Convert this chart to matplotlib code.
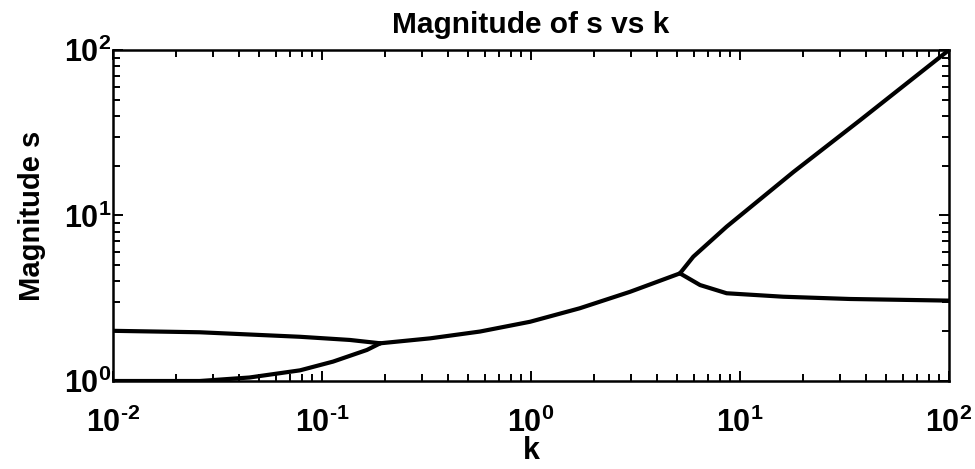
import numpy as np
import matplotlib
matplotlib.use("Agg")
import matplotlib.pyplot as plt
from matplotlib.ticker import LogLocator, FuncFormatter, NullFormatter

# branch values (k, |s|)
k_left_upper = [0.01, 0.026, 0.0785, 0.136, 0.19]
s_left_upper = [2.01, 1.97, 1.85, 1.77, 1.69]

k_left_lower = [0.01, 0.026, 0.045, 0.0785, 0.113, 0.164, 0.19]
s_left_lower = [1.0, 1.0, 1.05, 1.16, 1.31, 1.54, 1.69]

k_middle = [0.19, 0.329, 0.57, 0.99, 1.71, 2.98, 5.16]
s_middle = [1.69, 1.81, 1.99, 2.28, 2.75, 3.46, 4.47]

k_right_upper = [5.16, 5.98, 8.63, 18.0, 37.5, 100.0]
s_right_upper = [4.47, 5.64, 8.56, 18.3, 37.6, 100.0]

k_right_lower = [5.16, 6.44, 8.63, 16.1, 33.6, 100.0]
s_right_lower = [4.47, 3.80, 3.39, 3.23, 3.13, 3.06]

plt.rcParams['font.family'] = ['Liberation Sans', 'DejaVu Sans']
plt.rcParams['font.weight'] = 'bold'
plt.rcParams['mathtext.fontset'] = 'custom'
plt.rcParams['mathtext.rm'] = 'Liberation Sans:bold'
plt.rcParams['mathtext.bf'] = 'Liberation Sans:bold'
plt.rcParams['mathtext.default'] = 'bf'

fig = plt.figure(figsize=(9.75, 4.69), dpi=100)
ax = fig.add_axes([113 / 975, 1 - 381 / 469, (949 - 113) / 975, (381 - 50) / 469])

lw = 3.0
for kk, ss in [(k_left_upper, s_left_upper), (k_left_lower, s_left_lower),
               (k_middle, s_middle), (k_right_upper, s_right_upper),
               (k_right_lower, s_right_lower)]:
    ax.plot(kk, ss, color='black', lw=lw, solid_capstyle='round', solid_joinstyle='round')

ax.set_xscale('log')
ax.set_yscale('log')
ax.set_xlim(1e-2, 1e2)
ax.set_ylim(1e0, 1e2)

def pow_label(v, pos):
    e = int(round(np.log10(v)))
    if e < 0:
        return r'$10^{\text{-}%d}$' % (-e)
    return r'$10^{%d}$' % e

ax.xaxis.set_major_locator(LogLocator(base=10, numticks=10))
ax.yaxis.set_major_locator(LogLocator(base=10, numticks=10))
ax.xaxis.set_minor_locator(LogLocator(base=10, subs=np.arange(2, 10), numticks=20))
ax.yaxis.set_minor_locator(LogLocator(base=10, subs=np.arange(2, 10), numticks=20))
ax.xaxis.set_major_formatter(FuncFormatter(pow_label))
ax.yaxis.set_major_formatter(FuncFormatter(pow_label))
ax.xaxis.set_minor_formatter(NullFormatter())
ax.yaxis.set_minor_formatter(NullFormatter())

ax.tick_params(which='both', direction='in', top=True, right=True, width=1.4, labelsize=22)
ax.tick_params(which='major', length=7)
ax.tick_params(which='minor', length=5)
ax.tick_params(axis='x', which='major', pad=19)
ax.tick_params(axis='y', which='major', pad=1)
for sp in ax.spines.values():
    sp.set_linewidth(1.8)

ax.set_title('Magnitude of s vs k', fontsize=21.5, fontweight='bold', pad=12)
ax.set_xlabel('k', fontsize=22, fontweight='bold', labelpad=-2)
ax.set_ylabel('Magnitude s', fontsize=21, fontweight='bold', labelpad=13)

fig.savefig('out.png', dpi=100)
